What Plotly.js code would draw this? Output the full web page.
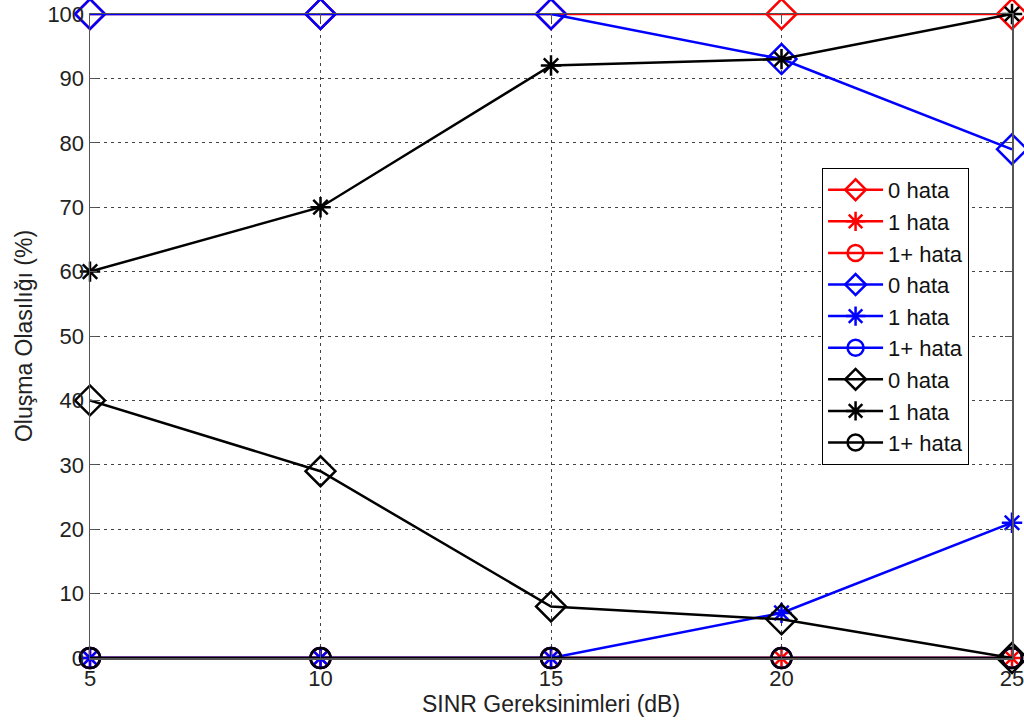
<!DOCTYPE html>
<html>
<head>
<meta charset="utf-8">
<script src="https://cdn.plot.ly/plotly-3.0.1.min.js"></script>
<style>html,body{margin:0;padding:0;background:#fff;}#chart{width:1024px;height:724px;}</style>
</head>
<body>
<div id="chart"></div>
<script>
const sinr = [5, 10, 15, 20, 25];
const seriesNames = ["0 hata", "1 hata", "1+ hata"];

const red0 = [100, 100, 100, 100, 100];
const red1 = [0, 0, 0, 0, 0];
const red1p = [0, 0, 0, 0, 0];
const blue0 = [100, 100, 100, 93, 79];
const blue1 = [0, 0, 0, 7, 21];
const blue1p = [0, 0, 0, 0, 0];
const black0 = [40, 29, 8, 6, 0];
const black1 = [60, 70, 92, 93, 100];
const black1p = [0, 0, 0, 0, 0];

const xTicks = [5, 10, 15, 20, 25];
const yTicks = [0, 10, 20, 30, 40, 50, 60, 70, 80, 90, 100];

const groups = [
  {color: "#ff0000", data: [red0, red1, red1p]},
  {color: "#0000ff", data: [blue0, blue1, blue1p]},
  {color: "#000000", data: [black0, black1, black1p]}
];
const symbols = ["diamond-open", "asterisk-open", "circle-open"];
const sizes = [23, 17, 20];

const traces = [];
groups.forEach((g, gi) => {
  g.data.forEach((ys, si) => {
    traces.push({
      x: sinr, y: ys, type: "scatter", mode: "lines+markers",
      name: seriesNames[si],
      legendgroup: "g" + gi + "_" + si,
      cliponaxis: false,
      line: {color: g.color, width: 2.5},
      marker: {symbol: symbols[si], size: sizes[si], color: g.color, line: {color: g.color, width: 2.5}}
    });
  });
});

const layout = {
  width: 1024, height: 724,
  margin: {l: 90, r: 12, t: 14, b: 66},
  paper_bgcolor: "#fff", plot_bgcolor: "#fff",
  font: {family: "Liberation Sans, Arial, sans-serif", color: "#222", size: 22},
  showlegend: true,
  legend: {
    x: 0.794, y: 0.761, xanchor: "left", yanchor: "top",
    bgcolor: "#fff", bordercolor: "#000", borderwidth: 1,
    font: {size: 22, color: "#111"},
    itemwidth: 55, tracegroupgap: 0
  },
  xaxis: {
    range: [5, 25], tickvals: xTicks, ticktext: xTicks.map(String),
    showgrid: true, gridcolor: "#444", griddash: "3px,4px", gridwidth: 1,
    showline: true, linecolor: "#555", linewidth: 1.5, mirror: "ticks",
    ticks: "inside", ticklen: 7, tickcolor: "#555",
    zeroline: false, tickfont: {size: 22}, ticklabeloverflow: "allow",
    title: {text: "SINR Gereksinimleri (dB)", font: {size: 23}, standoff: 6}
  },
  yaxis: {
    range: [0, 100], tickvals: yTicks, ticktext: yTicks.map(String),
    showgrid: true, gridcolor: "#444", griddash: "3px,4px", gridwidth: 1,
    showline: true, linecolor: "#555", linewidth: 1.5, mirror: "ticks",
    ticks: "inside", ticklen: 7, tickcolor: "#555",
    zeroline: false, tickfont: {size: 22}, ticklabeloverflow: "allow",
    title: {text: "Oluşma Olasılığı (%)", font: {size: 23}, standoff: 8}
  }
};

Plotly.newPlot("chart", traces, layout, {displayModeBar: false, staticPlot: true});
</script>
</body>
</html>
